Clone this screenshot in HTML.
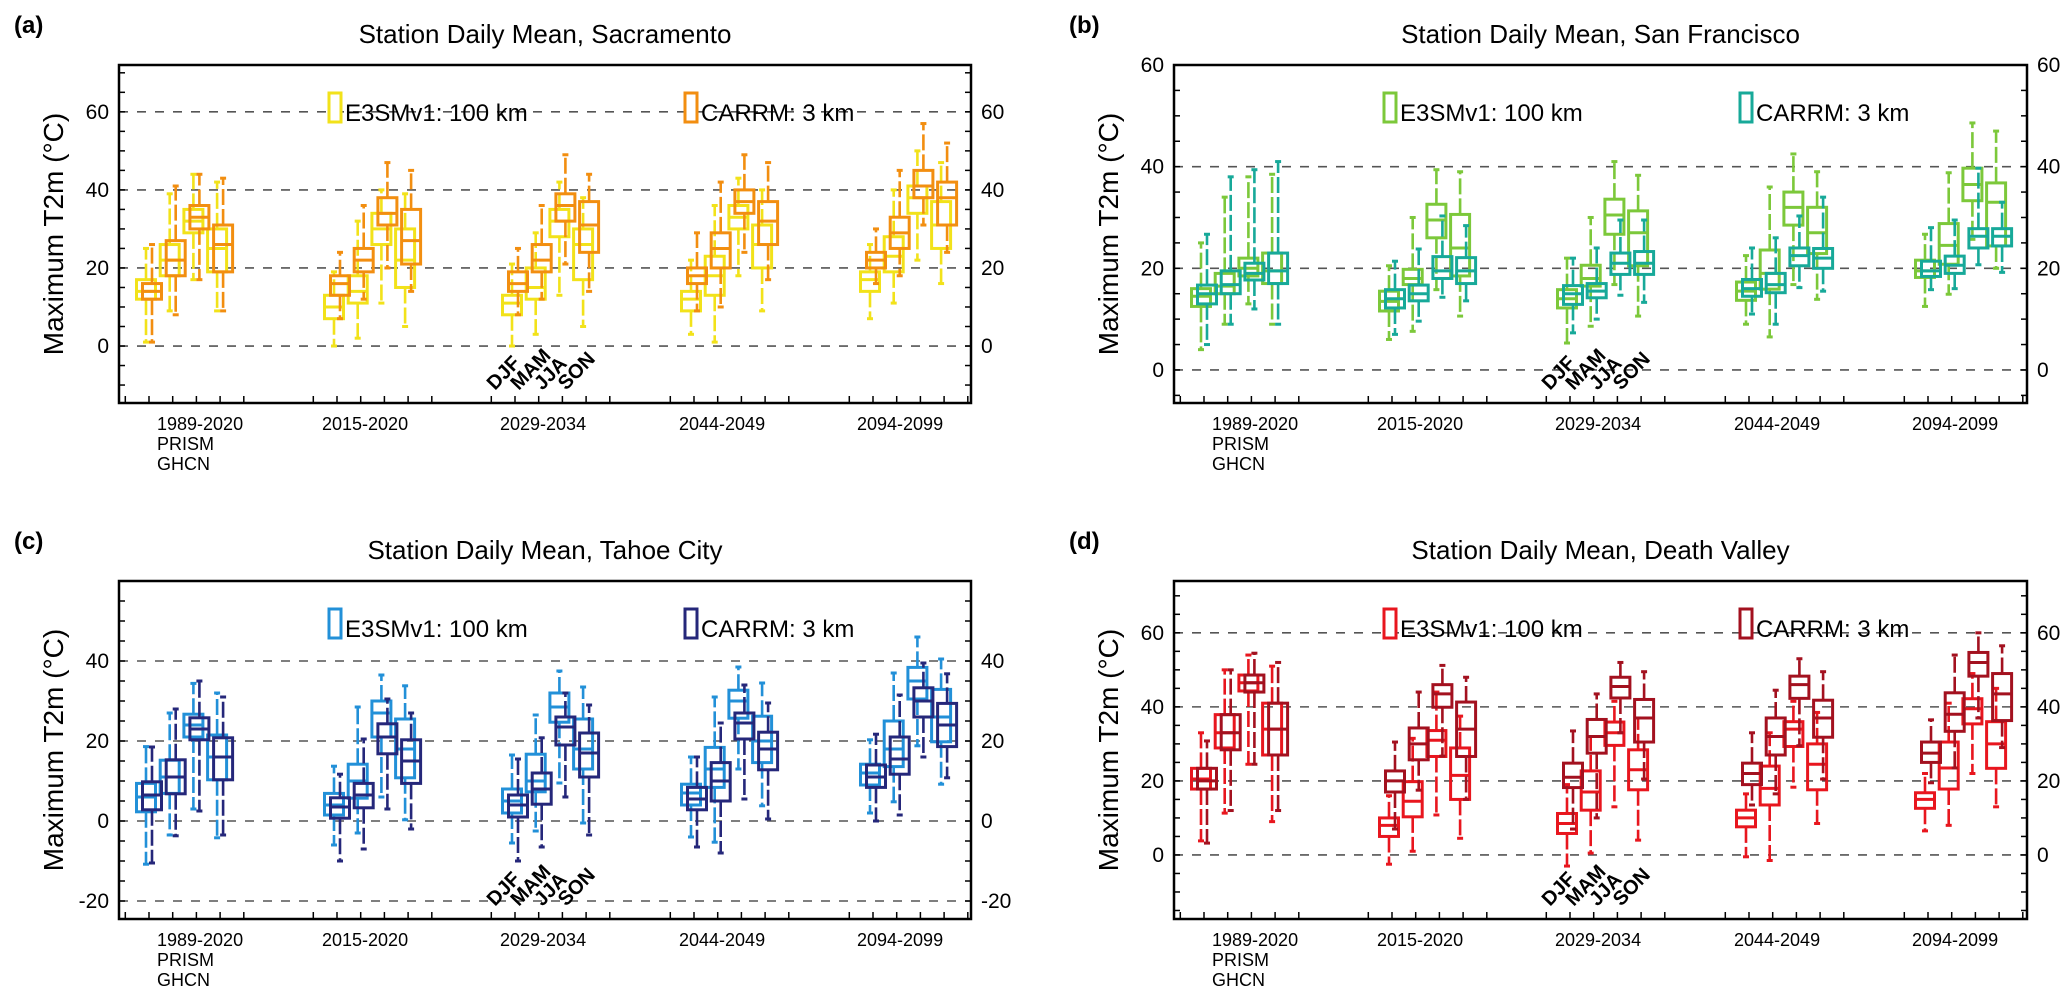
<!DOCTYPE html>
<html><head><meta charset="utf-8">
<style>
html,body{margin:0;padding:0;background:#fff;}
svg{display:block;font-family:"Liberation Sans",Arial,sans-serif;}
</style></head>
<body>
<svg id="fig" width="2067" height="1005" viewBox="0 0 2067 1005" xmlns="http://www.w3.org/2000/svg"></svg>
<script>
// ---- data ----
const seasons = ["DJF","MAM","JJA","SON"];
const periods = ["1989-2020","2015-2020","2029-2034","2044-2049","2094-2099"];
const stations = ["Sacramento","San Francisco","Tahoe City","Death Valley"];
const modelNames = ["E3SMv1: 100 km","CARRM: 3 km"];
// each box: [min, q1, median, q3, max]; index [period][season]
const sacE3SM = [
 [[1,12,14,17,25],[9,18,22,26,39],[17,29,32,35,44],[9,19,25,30,42]],
 [[0,7,10,13,19],[2,11,14,18,32],[11,26,30,34,40],[5,15,22,30,39]],
 [[0,8,11,13,21],[3,12,15,20,29],[13,28,32,35,42],[5,17,26,30,38]],
 [[3,9,12,14,22],[1,13,18,23,36],[18,30,33,36,43],[9,20,26,31,40]],
 [[7,14,17,19,26],[11,19,23,28,40],[22,34,38,41,50],[16,25,31,37,47]]];
const sacCARRM = [
 [[1,12,14,16,26],[8,18,22,27,41],[17,30,33,36,44],[9,19,26,31,43]],
 [[7,13,16,18,24],[12,19,22,25,36],[20,31,34,38,47],[14,21,27,35,45]],
 [[8,14,16,19,25],[12,19,22,26,36],[21,32,36,39,49],[14,24,31,37,44]],
 [[9,16,18,20,29],[10,20,25,29,42],[24,34,37,40,49],[17,26,32,37,47]],
 [[16,20,22,24,30],[18,25,29,33,45],[31,38,41,45,57],[24,31,38,42,52]]];
const sfE3SM = [
 [[4,12.5,14.5,16,25],[9,15,16.5,19,34],[13,18.5,20,22,38],[9,17,19.5,23,38.5]],
 [[6,11.6,13.5,15.5,20.5],[7.6,16.8,18,19.8,30],[15.8,26,29.5,32.6,39.4],[10.6,18.5,24,30.6,39]],
 [[5.3,12.2,14,15.8,22],[8.6,16.5,18,20.6,30],[16.8,26.7,30.5,33.6,41],[10.6,20.5,27,31.3,38.3]],
 [[9,13.7,15.5,17.3,22.5],[6.5,15.9,19,23.6,36],[16.8,28.5,32,35,42.5],[13.9,22.9,27,32,39]],
 [[12.5,18.2,19.5,21.6,26.7],[14.9,20.8,24.5,28.8,38.8],[25.7,33.3,36.5,39.7,48.6],[20,24.4,33,36.8,47]]];
const sfCARRM = [
 [[5,13,15,16.7,26.7],[9,15,16.8,19.5,38],[12,17.7,19,21,39.4],[9,17,19.5,23,41]],
 [[7,12.2,14,15.8,21.4],[9.6,13.6,15,16.7,23.8],[14.3,18,19.5,22.3,30.3],[13.6,17,19.5,22.1,28.4]],
 [[7.3,12.9,15,16.6,22],[10,14.2,15.5,17,24],[14.7,18.8,21,23,29.5],[13.3,18.8,21,23.3,29.5]],
 [[11,14.5,16,17.8,24],[9,15.2,16.8,19,26],[16.2,20.5,22.5,24,30.3],[15.5,20,22,23.9,34]],
 [[15.8,18.4,19.5,21.4,28],[16,19,20.6,22.4,29.5],[20.7,24,26.3,27.8,39.7],[19.2,24.4,26.3,27.8,33]]];
const tahE3SM = [
 [[-10.8,2.3,6,9.4,18.6],[-3.5,6.9,11,15.2,27],[3,21,24,26.7,34.4],[-4.2,10.3,16,21.5,32]],
 [[-6,1.5,4,6.9,13.7],[-3,5.7,10,14.2,28.5],[6,21,27,30,36.5],[0.3,10.8,18,25.5,33.8]],
 [[-5.5,2,5,8,16.5],[-2.5,7.3,10,16.7,26.5],[9.5,24.7,28.5,32,37.5],[-0.5,13,18,25.5,33.5]],
 [[-4,4,7,9.2,16],[-5.3,8.4,13,18.4,31],[13,25.7,30,32.7,38.5],[3.8,14.6,20,26.2,34.5]],
 [[2,9,12,14.2,20.3],[4.8,13.6,18,25,37],[18.8,30.5,35,38.4,46],[9.2,19.8,26,32.9,40.5]]];
const tahCARRM = [
 [[-10.5,2.8,6.5,9.8,18.5],[-3.7,6.8,11,15.3,28],[2.5,20.3,23,25.8,35],[-3.5,10.3,16,20.8,31]],
 [[-10,0.7,3.5,5.8,11.7],[-7,3.3,6.5,9.4,20.5],[3,16.8,21,24.3,30.5],[-2,9.4,15,20.3,27]],
 [[-10,1,4,6.5,15.5],[-6.5,4.2,8,12,20.8],[6,19,23.5,26,32],[-3.5,11,17,22,29]],
 [[-6.5,2.8,5.5,8.4,16],[-8,5,10,14.6,24.5],[5.5,20.5,24.5,27,34],[0.5,12.8,18,22.2,29.5]],
 [[0,8.4,11,14,21.7],[1.5,11.7,15.5,21,31.5],[16,26,30,33.3,39.5],[10.8,18.6,24,29.4,36.8]]];
const dvE3SM = [
 [[3.8,17.8,20.5,23.4,33],[11.3,28.9,33,37.9,50],[24.5,44.3,46.5,48.6,54],[9,27,34,41,51]],
 [[-2.5,5,8,10,16],[1,10.3,14.5,19.8,31.5],[10.8,26.6,31,33.6,44],[4.5,15,21.5,28.9,37.5]],
 [[-3,5.8,8.5,11.2,19],[0.5,12.1,17,22.7,32],[13,29.6,33,35.9,41.5],[4,17.6,23,28.4,37]],
 [[-0.5,7.6,10,12.1,16.5],[-1.5,13.5,18,24,33],[18.3,29.3,34,36,41.5],[8.5,17.6,24.5,30,38.5]],
 [[6.5,12.6,15,16.8,22],[8,17.8,23.5,30.5,41],[22,35.4,39.5,42.2,49],[13,23.4,30,36,45]]];
const dvCARRM = [
 [[3.2,17.8,20,23.4,30.8],[12,28.4,33,37.9,50],[24.5,44,46.5,48.6,54.5],[12,27,34,41,52]],
 [[7,17,20,22.7,30.5],[17.5,25.7,30,34.3,44],[26.7,39.9,43.5,46,51.2],[15,26.6,34,41.3,48]],
 [[7,18.2,21,24.8,33.5],[10,27.5,32,36.6,43.5],[33,42.4,45.5,48,52],[20.5,30.5,37,42,49.5]],
 [[13.5,19,22,24.8,33],[16.5,27,32,37,44.5],[29.5,42.3,46,48.3,53],[20.5,31.8,37,41.8,49.5]],
 [[19.5,25,27.5,30.5,36.5],[23.5,33.4,38,43.8,54],[37,48.3,52,54.7,60],[29,36.3,43.5,49,56.5]]];
const yTicksA = [0,20,40,60];
const yTicksB = [0,20,40,60];
const yTicksC = [-20,0,20,40];
const yTicksD = [0,20,40,60];

// ---- layout ----
const panels = [
 {letter:"(a)", ox:0, oy:0, L:119, R:971, T:65, B:403, yMin:-14.6, yMax:72, ticks:yTicksA, grid:[0,20,40,60], e:sacE3SM, c:sacCARRM, col:["#f2e21a","#f28e10"]},
 {letter:"(b)", ox:1034, oy:0, L:140, R:993, T:65, B:403, yMin:-6.5, yMax:60, ticks:yTicksB, grid:[0,20,40], e:sfE3SM, c:sfCARRM, col:["#7cc83a","#17a999"]},
 {letter:"(c)", ox:0, oy:502, L:119, R:971, T:79, B:417, yMin:-24.5, yMax:60, ticks:yTicksC, grid:[-20,0,20,40], e:tahE3SM, c:tahCARRM, col:["#2290d8","#25277a"]},
 {letter:"(d)", ox:1034, oy:502, L:140, R:993, T:79, B:417, yMin:-17.3, yMax:74, ticks:yTicksD, grid:[0,20,40,60], e:dvE3SM, c:dvCARRM, col:["#e8161e","#a3111f"]}
];
const groupStart = [30,218,396,575,754];
const seasonStep = 23.7;
const labelOff = [38,203,381,560,738];

const NS = "http://www.w3.org/2000/svg";
const svg = document.getElementById('fig');
function mk(tag, attrs, parent, text){
  const el = document.createElementNS(NS, tag);
  for (const k in attrs) el.setAttribute(k, attrs[k]);
  if (text !== undefined) el.textContent = text;
  (parent||svg).appendChild(el);
  return el;
}

panels.forEach((p, pi) => {
  const g = mk('g', {transform:`translate(${p.ox},${p.oy})`});
  
  
  const y = v => p.B - (v - p.yMin) / (p.yMax - p.yMin) * (p.B - p.T);
  const x = (gi, si) => p.L + groupStart[gi] + si * seasonStep;

  const lt = mk('text', {x: p.L - 105, y: p.T - 32, 'font-size':24, 'font-weight':'bold'}, g, p.letter);
  
  
  const tt = mk('text', {x:(p.L+p.R)/2, y:p.T - 22, 'font-size':26, 'text-anchor':'middle'}, g, 'Station Daily Mean, ' + stations[pi]);
  
  
  const yt = mk('text', {x:0, y:0, 'font-size':28, 'text-anchor':'middle', transform:`translate(${p.L-56},${(p.T+p.B)/2}) rotate(-90)`}, g, 'Maximum T2m (°C)');
  
  

  // grid
  p.grid.forEach(v => {
    const gl = mk('line', {x1:p.L, x2:p.R, y1:y(v), y2:y(v), stroke:'#555', 'stroke-width':1.6, 'stroke-dasharray':'9 9'}, g);
    
    
  });
  // minor y ticks
  for (let v = Math.ceil(p.yMin/5)*5; v <= p.yMax; v += 5) {
    mk('line', {x1:p.L, x2:p.L+6, y1:y(v), y2:y(v), stroke:'#000', 'stroke-width':1.5}, g);
    mk('line', {x1:p.R-6, x2:p.R, y1:y(v), y2:y(v), stroke:'#000', 'stroke-width':1.5}, g);
  }
  // tick labels
  p.ticks.forEach(v => {
    const a = mk('text', {x:p.L-10, y:y(v)+7, 'font-size':21, 'text-anchor':'end'}, g, String(v));
    
    
    const b = mk('text', {x:p.R+10, y:y(v)+7, 'font-size':21}, g, String(v));
    
    
  });
  // x ticks
  periods.forEach((per, gi) => {
    for (let s = -1; s <= 4; s++) {
      const xx = x(gi, s);
      if (xx < p.R - 3) mk('line', {x1:xx, x2:xx, y1:p.B, y2:p.B-7, stroke:'#000', 'stroke-width':1.5}, g);
    }
    const xl = mk('text', {x:p.L+labelOff[gi], y:p.B+27, 'font-size':18}, g, per);
    
    
  });
  ['PRISM','GHCN'].forEach((t, i) => {
    const o = mk('text', {x:p.L+labelOff[0], y:p.B+47+20*i, 'font-size':18}, g, t);
    
    
  });
  // season labels in group 3
  seasons.forEach((s, si) => {
    const sx = x(2, si) - 20, sy = p.B - 12;
    const st = mk('text', {x:0, y:0, 'font-size':20, 'font-weight':'bold', transform:`translate(${sx},${sy}) rotate(-46)`}, g, s);
    
    
  });

  // boxes
  [p.e, p.c].forEach((series, mi) => {
    const col = p.col[mi];
    const off = mi === 0 ? -3 : 3;
    series.forEach((grp, gi) => {
      grp.forEach((st, si) => {
        const cx = x(gi, si) + off, w = 19;
        const bg = mk('g', {}, g);
        
        
        mk('line', {x1:cx, x2:cx, y1:y(st[3]), y2:y(st[4]), stroke:col, 'stroke-width':2.6, 'stroke-dasharray':'16 4'}, bg);
        mk('line', {x1:cx, x2:cx, y1:y(st[1]), y2:y(st[0]), stroke:col, 'stroke-width':2.6, 'stroke-dasharray':'16 4'}, bg);
        mk('line', {x1:cx-3, x2:cx+3, y1:y(st[4]), y2:y(st[4]), stroke:col, 'stroke-width':3}, bg);
        mk('line', {x1:cx-3, x2:cx+3, y1:y(st[0]), y2:y(st[0]), stroke:col, 'stroke-width':3}, bg);
        mk('rect', {x:cx-w/2, y:y(st[3]), width:w, height:y(st[1])-y(st[3]), fill:'none', stroke:col, 'stroke-width':3}, bg);
        mk('line', {x1:cx-w/2, x2:cx+w/2, y1:y(st[2]), y2:y(st[2]), stroke:col, 'stroke-width':3}, bg);
      });
    });
  });

  // legend
  [[p.L+210, 0],[p.L+566, 1]].forEach(([lx, mi]) => {
    const lg = mk('g', {}, g);
    
    
    mk('rect', {x:lx, y:p.T+28, width:12, height:29, fill:'#fff', stroke:p.col[mi], 'stroke-width':3}, lg);
    mk('text', {x:lx+16, y:p.T+56, 'font-size':24}, lg, modelNames[mi]);
  });

  // frame
  const fr = mk('rect', {x:p.L, y:p.T, width:p.R-p.L, height:p.B-p.T, fill:'none', stroke:'#000', 'stroke-width':2.5}, g);
  
  
});
</script>
</body></html>
